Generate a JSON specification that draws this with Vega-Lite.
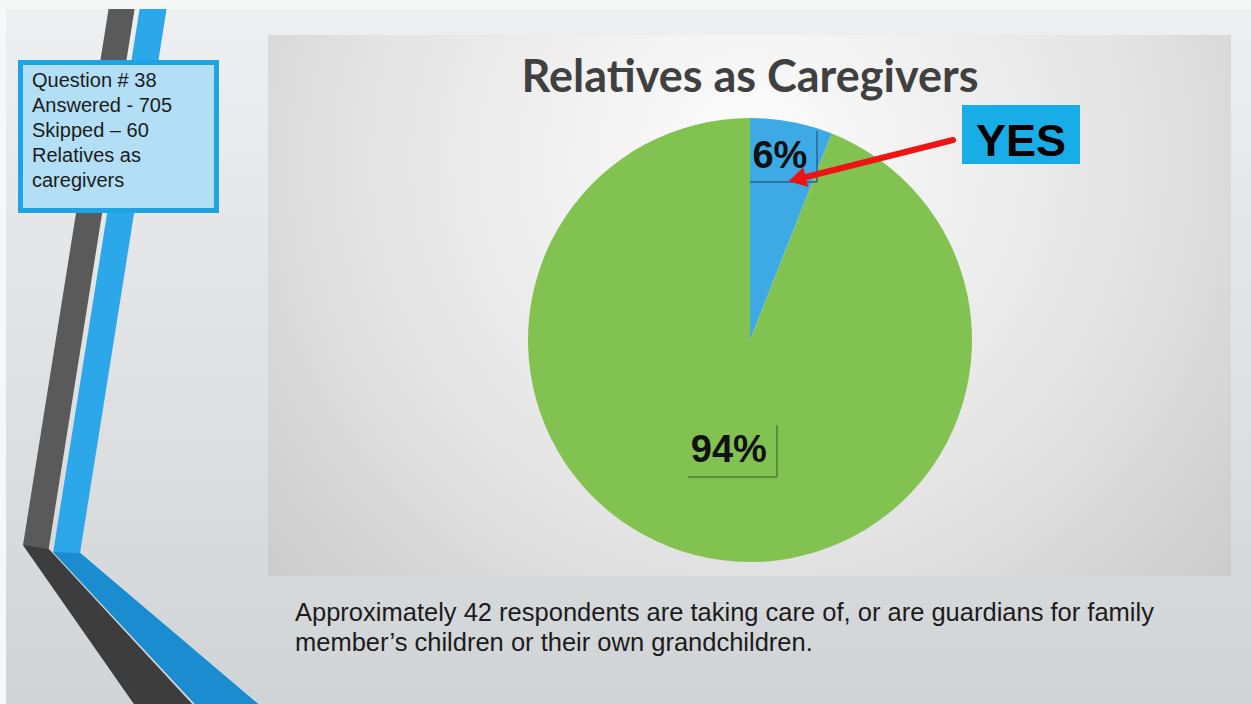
{
  "$schema": "https://vega.github.io/schema/vega-lite/v6.json",
  "width": 1251,
  "height": 704,
  "autosize": {"type": "fit", "contains": "padding"},
  "padding": 0,
  "background": "#f6f7f7",
  "config": {"view": {"stroke": null}},
  "datasets": {
    "pie": [
      {"answer": "Yes", "pct": 6, "order": 1, "label": "6%"},
      {"answer": "No", "pct": 94, "order": 2, "label": "94%"}
    ],
    "stripes": [
      {"part": "dark_up", "y": 9, "x": 108.6, "x2": 134.6},
      {"part": "dark_up", "y": 545, "x": 23, "x2": 49.3},
      {"part": "dark_up", "y": 549, "x": 25.8, "x2": 48.7},
      {"part": "dark_up", "y": 704, "x": 134, "x2": 192},
      {"part": "blue_up", "y": 9, "x": 139.6, "x2": 166.6},
      {"part": "blue_up", "y": 552, "x": 53.2, "x2": 80.2},
      {"part": "blue_up", "y": 553, "x": 54, "x2": 80.1},
      {"part": "blue_up", "y": 704, "x": 195, "x2": 258},
      {"part": "dark_lo", "y": 545, "x": 23, "x2": 23},
      {"part": "dark_lo", "y": 549, "x": 25.8, "x2": 48.7},
      {"part": "dark_lo", "y": 704, "x": 134, "x2": 192},
      {"part": "blue_lo", "y": 552, "x": 53.2, "x2": 53.2},
      {"part": "blue_lo", "y": 553, "x": 54, "x2": 80.1},
      {"part": "blue_lo", "y": 704, "x": 195, "x2": 258}
    ],
    "frames": [
      {"g": "yes", "x": 750, "y": 182, "x2": 817, "y2": 182},
      {"g": "yes", "x": 817, "y": 131, "x2": 817, "y2": 182},
      {"g": "no", "x": 688, "y": 477, "x2": 777, "y2": 477},
      {"g": "no", "x": 777, "y": 425, "x2": 777, "y2": 477}
    ]
  },
  "layer": [
    {
      "data": {"values": [{"k": "slide"}]},
      "mark": {"type": "rect", "fill": {"gradient": "linear", "x1": 0, "y1": 0, "x2": 0, "y2": 1, "stops": [{"offset": 0, "color": "#eeeff0"}, {"offset": 1, "color": "#d1d4d6"}]}},
      "encoding": {
        "x": {"datum": 6, "type": "quantitative", "scale": {"domain": [0, 1251], "nice": false, "zero": false}, "axis": null},
        "x2": {"datum": 1251},
        "y": {"datum": 9, "type": "quantitative", "scale": {"domain": [0, 704], "nice": false, "zero": false, "reverse": true}, "axis": null},
        "y2": {"datum": 704}
      }
    },
    {
      "data": {"name": "stripes"},
      "transform": [{"filter": "indexof(datum.part, '_up') >= 0"}],
      "mark": {"type": "area", "orient": "horizontal"},
      "encoding": {
        "y": {"field": "y", "type": "quantitative", "scale": {"domain": [0, 704], "nice": false, "zero": false, "reverse": true}, "axis": null},
        "x": {"field": "x", "type": "quantitative", "scale": {"domain": [0, 1251], "nice": false, "zero": false}, "axis": null},
        "x2": {"field": "x2"},
        "fill": {"field": "part", "type": "nominal", "scale": {"domain": ["dark_up", "blue_up", "dark_lo", "blue_lo"], "range": ["#5a5a5a", "#2ca8ea", "#3d3d3d", "#1a8ccf"]}, "legend": null}
      }
    },
    {
      "data": {"name": "stripes"},
      "transform": [{"filter": "indexof(datum.part, '_lo') >= 0"}],
      "mark": {"type": "area", "orient": "horizontal"},
      "encoding": {
        "y": {"field": "y", "type": "quantitative", "scale": {"domain": [0, 704], "nice": false, "zero": false, "reverse": true}, "axis": null},
        "x": {"field": "x", "type": "quantitative", "scale": {"domain": [0, 1251], "nice": false, "zero": false}, "axis": null},
        "x2": {"field": "x2"},
        "fill": {"field": "part", "type": "nominal", "scale": {"domain": ["dark_up", "blue_up", "dark_lo", "blue_lo"], "range": ["#5a5a5a", "#2ca8ea", "#3d3d3d", "#1a8ccf"]}, "legend": null}
      }
    },
    {
      "data": {"values": [{"k": "panel"}]},
      "mark": {"type": "rect", "fill": {"gradient": "radial", "x1": 0.5, "y1": 0.35, "r1": 0, "x2": 0.5, "y2": 0.35, "r2": 0.72, "stops": [{"offset": 0, "color": "#fdfdfd"}, {"offset": 0.55, "color": "#e4e4e4"}, {"offset": 1, "color": "#c6c6c6"}]}},
      "encoding": {
        "x": {"datum": 268, "type": "quantitative", "scale": {"domain": [0, 1251], "nice": false, "zero": false}, "axis": null},
        "x2": {"datum": 1231},
        "y": {"datum": 35, "type": "quantitative", "scale": {"domain": [0, 704], "nice": false, "zero": false, "reverse": true}, "axis": null},
        "y2": {"datum": 576}
      }
    },
    {
      "data": {"name": "pie"},
      "mark": {"type": "arc", "outerRadius": 222},
      "encoding": {
        "x": {"datum": 750, "type": "quantitative", "scale": {"domain": [0, 1251], "nice": false, "zero": false}, "axis": null},
        "y": {"datum": 340, "type": "quantitative", "scale": {"domain": [0, 704], "nice": false, "zero": false, "reverse": true}, "axis": null},
        "theta": {"field": "pct", "type": "quantitative", "stack": true},
        "order": {"field": "order", "type": "quantitative"},
        "color": {"field": "answer", "type": "nominal", "scale": {"domain": ["Yes", "No"], "range": ["#3daae6", "#82c251"]}, "legend": null}
      }
    },
    {
      "data": {"name": "frames"},
      "mark": {"type": "rule", "strokeWidth": 2, "opacity": 0.75},
      "encoding": {
        "x": {"field": "x", "type": "quantitative", "scale": {"domain": [0, 1251], "nice": false, "zero": false}, "axis": null},
        "x2": {"field": "x2"},
        "y": {"field": "y", "type": "quantitative", "scale": {"domain": [0, 704], "nice": false, "zero": false, "reverse": true}, "axis": null},
        "y2": {"field": "y2"},
        "stroke": {"field": "g", "type": "nominal", "scale": {"domain": ["yes", "no"], "range": ["#2f6288", "#4f7e32"]}, "legend": null}
      }
    },
    {
      "data": {"name": "pie"},
      "mark": {"type": "text", "radius": 186, "dx": -5, "font": "Liberation Sans", "fontWeight": "bold", "fontSize": 38, "fill": "#111111", "align": "center", "baseline": "middle"},
      "encoding": {
        "x": {"datum": 750, "type": "quantitative", "scale": {"domain": [0, 1251], "nice": false, "zero": false}, "axis": null},
        "y": {"datum": 340, "type": "quantitative", "scale": {"domain": [0, 704], "nice": false, "zero": false, "reverse": true}, "axis": null},
        "theta": {"field": "pct", "type": "quantitative", "stack": true},
        "order": {"field": "order", "type": "quantitative"},
        "text": {"condition": {"test": "datum.answer === 'Yes'", "field": "label"}, "value": ""}
      }
    },
    {
      "data": {"name": "pie"},
      "mark": {"type": "text", "radius": 113, "font": "Liberation Sans", "fontWeight": "bold", "fontSize": 38, "fill": "#111111", "align": "center", "baseline": "middle"},
      "encoding": {
        "x": {"datum": 750, "type": "quantitative", "scale": {"domain": [0, 1251], "nice": false, "zero": false}, "axis": null},
        "y": {"datum": 340, "type": "quantitative", "scale": {"domain": [0, 704], "nice": false, "zero": false, "reverse": true}, "axis": null},
        "theta": {"field": "pct", "type": "quantitative", "stack": true},
        "order": {"field": "order", "type": "quantitative"},
        "text": {"condition": {"test": "datum.answer === 'No'", "field": "label"}, "value": ""}
      }
    },
    {
      "data": {"values": [{"k": "arrow"}]},
      "mark": {"type": "rule", "stroke": "#ee1414", "strokeWidth": 6, "strokeCap": "round"},
      "encoding": {
        "x": {"datum": 953, "type": "quantitative", "scale": {"domain": [0, 1251], "nice": false, "zero": false}, "axis": null},
        "x2": {"datum": 802},
        "y": {"datum": 140, "type": "quantitative", "scale": {"domain": [0, 704], "nice": false, "zero": false, "reverse": true}, "axis": null},
        "y2": {"datum": 178}
      }
    },
    {
      "data": {"values": [{"k": "arrowhead"}]},
      "mark": {"type": "point", "shape": "triangle", "filled": true, "fill": "#ee1414", "opacity": 1, "size": 420, "angle": 256},
      "encoding": {
        "x": {"datum": 800, "type": "quantitative", "scale": {"domain": [0, 1251], "nice": false, "zero": false}, "axis": null},
        "y": {"datum": 178.5, "type": "quantitative", "scale": {"domain": [0, 704], "nice": false, "zero": false, "reverse": true}, "axis": null}
      }
    },
    {
      "data": {"values": [{"k": "yesbox"}]},
      "mark": {"type": "rect", "fill": "#19ade8"},
      "encoding": {
        "x": {"datum": 962, "type": "quantitative", "scale": {"domain": [0, 1251], "nice": false, "zero": false}, "axis": null},
        "x2": {"datum": 1080},
        "y": {"datum": 105, "type": "quantitative", "scale": {"domain": [0, 704], "nice": false, "zero": false, "reverse": true}, "axis": null},
        "y2": {"datum": 164}
      }
    },
    {
      "data": {"values": [{"t": "YES"}]},
      "mark": {"type": "text", "font": "Liberation Sans", "fontWeight": "bold", "fontSize": 45, "fill": "#000000", "align": "center", "baseline": "alphabetic"},
      "encoding": {
        "x": {"datum": 1021, "type": "quantitative", "scale": {"domain": [0, 1251], "nice": false, "zero": false}, "axis": null},
        "y": {"datum": 156, "type": "quantitative", "scale": {"domain": [0, 704], "nice": false, "zero": false, "reverse": true}, "axis": null},
        "text": {"field": "t"}
      }
    },
    {
      "data": {"values": [{"k": "infobox"}]},
      "mark": {"type": "rect", "fill": "#b2dff5", "stroke": "#1ea3e3", "strokeWidth": 5},
      "encoding": {
        "x": {"datum": 20.5, "type": "quantitative", "scale": {"domain": [0, 1251], "nice": false, "zero": false}, "axis": null},
        "x2": {"datum": 216.5},
        "y": {"datum": 62.5, "type": "quantitative", "scale": {"domain": [0, 704], "nice": false, "zero": false, "reverse": true}, "axis": null},
        "y2": {"datum": 210.5}
      }
    },
    {
      "data": {"values": [{"t": ["Question # 38", "Answered - 705", "Skipped – 60", "Relatives as", "caregivers"]}]},
      "mark": {"type": "text", "font": "Liberation Sans", "fontSize": 20, "fill": "#1c1c1c", "align": "left", "baseline": "alphabetic", "lineHeight": 25},
      "encoding": {
        "x": {"datum": 32, "type": "quantitative", "scale": {"domain": [0, 1251], "nice": false, "zero": false}, "axis": null},
        "y": {"datum": 87, "type": "quantitative", "scale": {"domain": [0, 704], "nice": false, "zero": false, "reverse": true}, "axis": null},
        "text": {"field": "t"}
      }
    },
    {
      "data": {"values": [{"t": "Relatives as Caregivers"}]},
      "mark": {"type": "text", "font": "Lato", "fontWeight": "bold", "fontSize": 45, "fill": "#404040", "align": "center", "baseline": "alphabetic"},
      "encoding": {
        "x": {"datum": 750, "type": "quantitative", "scale": {"domain": [0, 1251], "nice": false, "zero": false}, "axis": null},
        "y": {"datum": 92, "type": "quantitative", "scale": {"domain": [0, 704], "nice": false, "zero": false, "reverse": true}, "axis": null},
        "text": {"field": "t"}
      }
    },
    {
      "data": {"values": [{"t": ["Approximately 42 respondents are taking care of, or are guardians for family", "member’s children or their own grandchildren."]}]},
      "mark": {"type": "text", "font": "Liberation Sans", "fontSize": 25.5, "fill": "#1c1c1c", "align": "left", "baseline": "alphabetic", "lineHeight": 30},
      "encoding": {
        "x": {"datum": 295, "type": "quantitative", "scale": {"domain": [0, 1251], "nice": false, "zero": false}, "axis": null},
        "y": {"datum": 621, "type": "quantitative", "scale": {"domain": [0, 704], "nice": false, "zero": false, "reverse": true}, "axis": null},
        "text": {"field": "t"}
      }
    }
  ]
}
